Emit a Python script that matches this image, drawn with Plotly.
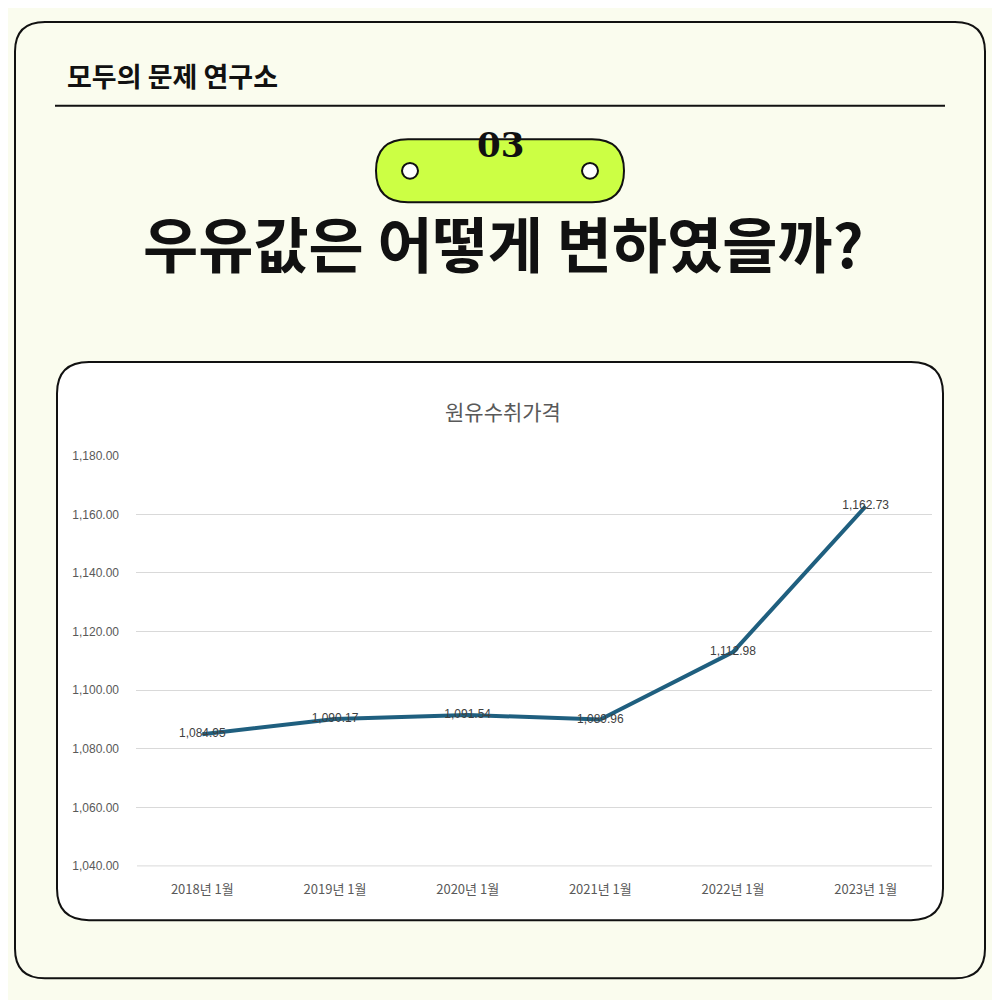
import plotly.graph_objects as go

categories = ["2018년 1월", "2019년 1월", "2020년 1월", "2021년 1월", "2022년 1월", "2023년 1월"]
prices = [1084.95, 1090.17, 1091.54, 1089.96, 1112.98, 1162.73]
labels = ["1,084.95", "1,090.17", "1,091.54", "1,089.96", "1,112.98", "1,162.73"]
ytick_vals = [1040, 1060, 1080, 1100, 1120, 1140, 1160, 1180]
ytick_text = [f"{v:,.2f}" for v in ytick_vals]

W = H = 1000
OFF = 8
def X(px): return (px - OFF) / W
def Y(py): return 1 - (py - OFF) / H

def rrect(x0, y0, x1, y1, r):
    return (f"M {X(x0+r)},{Y(y0)} L {X(x1-r)},{Y(y0)} Q {X(x1)},{Y(y0)} {X(x1)},{Y(y0+r)} "
            f"L {X(x1)},{Y(y1-r)} Q {X(x1)},{Y(y1)} {X(x1-r)},{Y(y1)} L {X(x0+r)},{Y(y1)} "
            f"Q {X(x0)},{Y(y1)} {X(x0)},{Y(y1-r)} L {X(x0)},{Y(y0+r)} Q {X(x0)},{Y(y0)} {X(x0+r)},{Y(y0)} Z")

fig = go.Figure()
fig.add_trace(go.Scatter(
    x=categories, y=prices, mode="lines+text", text=labels, textposition="middle center",
    line=dict(color="#1f5f7f", width=4), textfont=dict(size=12, color="#404040", family="Liberation Sans"),
    cliponaxis=False, hoverinfo="skip"))

shapes = [
    dict(type="path", path=rrect(15, 15, 985, 985, 30), xref="paper", yref="paper",
         line=dict(color="#111", width=2), fillcolor="#fafcee", layer="below"),
    dict(type="line", x0=X(55), x1=X(945), y0=Y(100), y1=Y(100), xref="paper", yref="paper",
         line=dict(color="#111", width=2)),
    dict(type="path", path=rrect(376, 134, 624, 198, 32), xref="paper", yref="paper",
         line=dict(color="#111", width=2), fillcolor="#ccff44"),
    dict(type="circle", x0=X(402), x1=X(418), y0=Y(158), y1=Y(174), xref="paper", yref="paper",
         line=dict(color="#111", width=2), fillcolor="white"),
    dict(type="circle", x0=X(582), x1=X(598), y0=Y(158), y1=Y(174), xref="paper", yref="paper",
         line=dict(color="#111", width=2), fillcolor="white"),
    dict(type="path", path=rrect(57, 360, 943, 926, 32), xref="paper", yref="paper",
         line=dict(color="#111", width=2), fillcolor="white", layer="below"),
    dict(type="line", x0=X(137), x1=X(932), y0=Y(871), y1=Y(871), xref="paper", yref="paper",
         line=dict(color="#d9d9d9", width=1)),
]

annotations = [
    dict(text="<b>모두의 문제 연구소</b>", x=X(65), y=Y(76 - 7), xref="paper", yref="paper",
         xanchor="left", yanchor="middle", showarrow=False,
         font=dict(size=27, color="#111", family="Noto Sans CJK KR")),
    dict(text="<b>03</b>", x=X(500), y=Y(166 - 26), xref="paper", yref="paper", showarrow=False,
         yanchor="middle", font=dict(size=34, color="#111", family="DejaVu Serif")),
    dict(text="<b>우유값은 어떻게 변하였을까?</b>", x=X(503), y=Y(285 - 47), xref="paper", yref="paper",
         showarrow=False, yanchor="middle",
         font=dict(size=60, color="#111", family="Noto Sans CJK KR")),
    dict(text="원유수취가격", x=X(503), y=Y(413 - 3), xref="paper", yref="paper", showarrow=False,
         yanchor="middle", font=dict(size=21, color="#595959", family="Noto Sans CJK KR")),
]

fig.update_layout(
    width=W, height=H, margin=dict(l=0, r=0, t=0, b=0),
    paper_bgcolor="#fafcee", plot_bgcolor="rgba(0,0,0,0)",
    shapes=shapes, annotations=annotations, showlegend=False,
    xaxis=dict(domain=[X(136), X(932)], range=[-0.5, 5.5], showgrid=False, zeroline=False,
               tickfont=dict(size=13, color="#595959", family="Noto Sans CJK KR"), ticks="",
               showline=False, ticklabelstandoff=14),
    yaxis=dict(domain=[Y(871), Y(455)], range=[1040, 1180], tickvals=ytick_vals, ticktext=ytick_text,
               showgrid=True, gridcolor="#d9d9d9", gridwidth=1, zeroline=False,
               tickfont=dict(size=12, color="#595959", family="Liberation Sans"), ticks="",
               ticklabelstandoff=16),
)
fig.write_html("out.html")
